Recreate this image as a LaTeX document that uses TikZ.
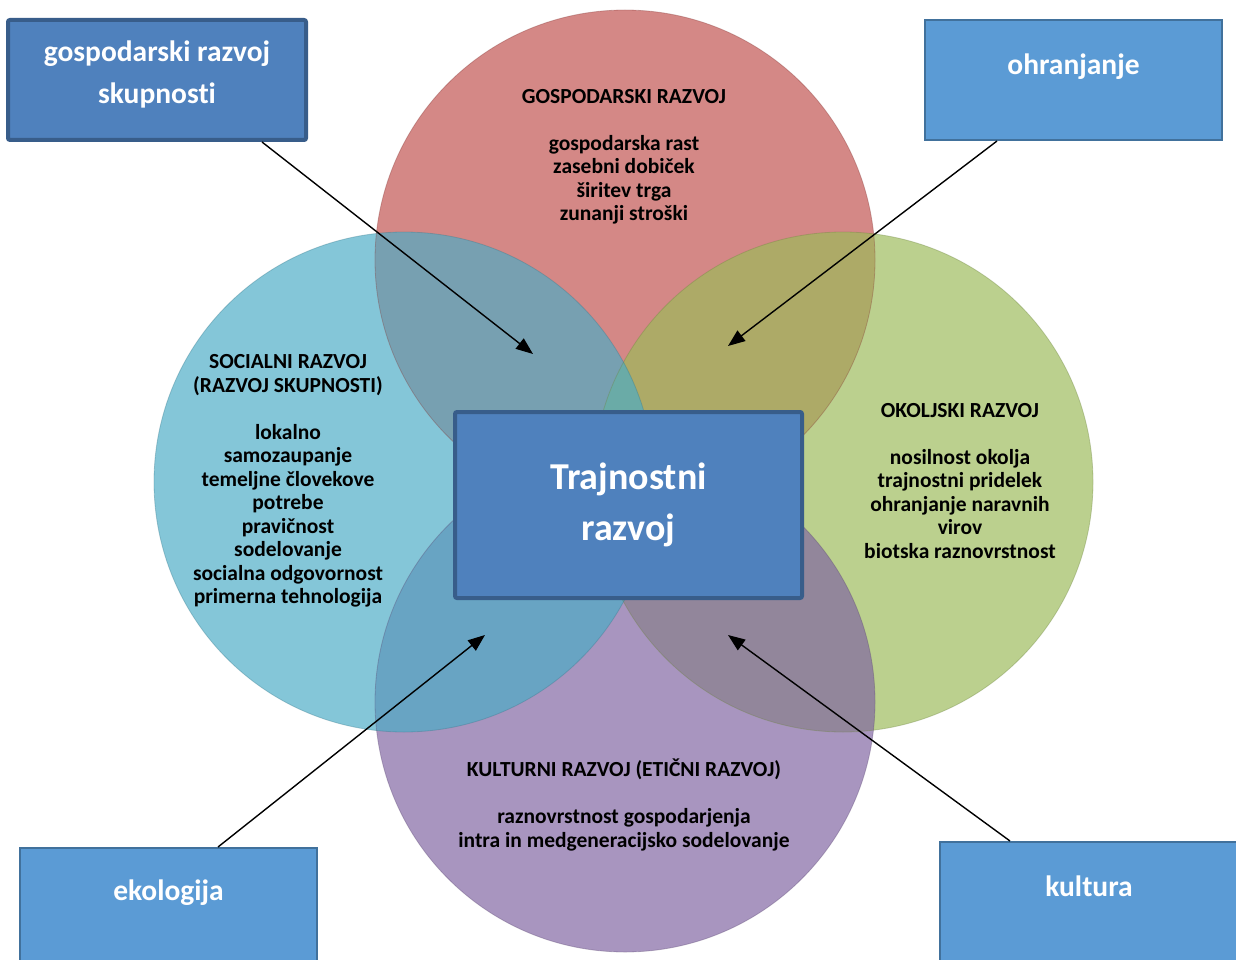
\documentclass[tikz,border=0pt]{standalone}
\usepackage{fontspec}
\setmainfont[Ligatures={NoCommon}]{Carlito}
\usetikzlibrary{arrows.meta,calc}
\definecolor{cred}{HTML}{C0504D}
\definecolor{cblue}{HTML}{4BACC6}
\definecolor{cgreen}{HTML}{9BBB59}
\definecolor{cpurple}{HTML}{8064A2}
\definecolor{boxdark}{HTML}{4F81BD}
\definecolor{boxdarkline}{HTML}{385D8A}
\definecolor{boxlight}{HTML}{5B9BD5}
\definecolor{boxlightline}{HTML}{41719C}
\begin{document}
\begin{tikzpicture}[x=1pt,y=-1pt,
  petal/.style={opacity=0.68},
  petalrim/.style={draw=#1!70!black, line width=0.8pt, draw opacity=0.35},
  ctext/.style={align=center, text=black, font=\bfseries\fontsize{21.5}{23.5}\selectfont},
  boxA/.style={draw=boxdarkline, fill=boxdark, line width=4pt, rounded corners=2pt},
  boxB/.style={draw=boxlightline, fill=boxlight, line width=2pt},
  btext/.style={align=center, text=white, font=\bfseries\fontsize{29.5}{42}\selectfont},
  ctrtext/.style={align=center, text=white, font=\bfseries\fontsize{38}{51}\selectfont},
  arr/.style={draw=black, line width=1.4pt, -{Triangle[length=17pt,width=13pt]}}
]
\useasboundingbox (0,0) rectangle (1236,960);
\clip (0,0) rectangle (1236,960);
\fill[white] (0,0) rectangle (1236,960);

% circles (order: red, green, purple, blue)
\fill[cred, petal] (625,260) circle[radius=250];
\fill[cgreen, petal] (843,482) circle[radius=250];
\fill[cpurple, petal] (625,702) circle[radius=250];
\fill[cblue, petal] (404,482) circle[radius=250];
\draw[petalrim=cred] (625,260) circle[radius=250];
\draw[petalrim=cgreen] (843,482) circle[radius=250];
\draw[petalrim=cpurple] (625,702) circle[radius=250];
\draw[petalrim=cblue] (404,482) circle[radius=250];

% circle texts
\node[ctext] (tgos) at (624,157) {GOSPODARSKI RAZVOJ\\[23.5pt]gospodarska rast\\zasebni dobiček\\širitev trga\\zunanji stroški};
\node[ctext] (tsoc) at (288,481) {SOCIALNI RAZVOJ\\(RAZVOJ SKUPNOSTI)\\[23.5pt]lokalno\\samozaupanje\\temeljne človekove\\potrebe\\pravičnost\\sodelovanje\\socialna odgovornost\\primerna tehnologija};
\node[ctext] (tokl) at (960,481) {OKOLJSKI RAZVOJ\\[23.5pt]nosilnost okolja\\trajnostni pridelek\\ohranjanje naravnih\\virov\\biotska raznovrstnost};
\node[ctext] (tkul) at (624,805) {KULTURNI RAZVOJ (ETIČNI RAZVOJ)\\[23.5pt]raznovrstnost gospodarjenja\\intra in medgeneracijsko sodelovanje};

% center box
\node[boxA, minimum width=347pt, minimum height=186pt] (ctr) at (628.5,505) {};
\node[ctrtext] (ctrt) at (628.5,505) {Trajnostni\\razvoj};

% corner boxes
\node[boxA, minimum width=298pt, minimum height=120pt] (tl) at (157,80) {};
\node[btext] (tlt) at (157,74) {gospodarski razvoj\\skupnosti};
\node[boxB, minimum width=297pt, minimum height=120pt] (tr) at (1073.5,80) {};
\node[btext] (trt) at (1073.5,67) {ohranjanje};
\node[boxB, minimum width=297pt, minimum height=132pt] (bl) at (168.5,914) {};
\node[btext] (blt) at (168.5,893) {ekologija};
\node[boxB, minimum width=310pt, minimum height=138pt] (br) at (1095,911) {};
\node[btext] (brt) at (1089,886) {kultura};

% arrow targets
\coordinate (e1) at (533,354);
\coordinate (e2) at (728,346);
\coordinate (e3) at (485,635);
\coordinate (e4) at (728,635);

\draw[arr] ([xshift=105pt]tl.south) -- (e1);
\draw[arr] ([xshift=-76.5pt]tr.south) -- (e2);
\draw[arr] ([xshift=49.5pt]bl.north) -- (e3);
\draw[arr] ([xshift=-85pt]br.north) -- (e4);
\end{tikzpicture}
\end{document}
